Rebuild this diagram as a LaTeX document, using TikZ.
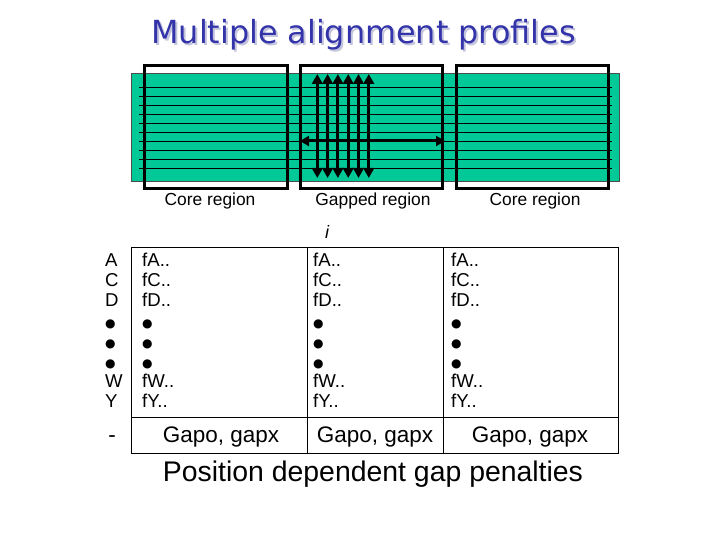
\documentclass[tikz,border=0pt]{standalone}
\usepackage{fontspec}
\setmainfont{Liberation Sans}
\newfontfamily\titlefont{DejaVu Sans}
\usetikzlibrary{arrows.meta}
\definecolor{coregreen}{RGB}{0,200,150}
\definecolor{titleblue}{RGB}{51,51,170}
\definecolor{titleshadow}{RGB}{196,196,220}
\newcommand{\dotmark}{{\titlefont\fontsize{12}{20}\selectfont ●}}
\tikzset{regionbox/.style = {draw, line width=3pt}}
\tikzset{seqline/.style = {line width=0.9pt}}
\tikzset{gaparrow/.style = {line width=3pt,
    {Triangle[width=10.5pt,length=10pt]}-{Triangle[width=10.5pt,length=10pt]}}}
\tikzset{cell/.style = {line width=0.9pt}}
\tikzset{rowtext/.style = {anchor=base west, inner sep=0,
    font=\fontsize{18.6}{20}\selectfont}}
\tikzset{caption/.style = {inner sep=0, font=\fontsize{17.4}{20}\selectfont}}
\tikzset{gaptext/.style = {inner sep=0, font=\fontsize{22.5}{24}\selectfont}}

\begin{document}
\begin{tikzpicture}[x=1pt, y=-1pt]
      \useasboundingbox (0,0) rectangle (720,540);
      % title with shadow
      \node[text=titleshadow, font=\titlefont\fontsize{31.8}{36}\selectfont]
        (titleshd) at (365.5,36.5) {Multiple alignment profiles};
      \node[text=titleblue, font=\titlefont\fontsize{31.8}{36}\selectfont]
        (title) at (363.5,34.5) {Multiple alignment profiles};
      % alignment block
      \draw[fill=coregreen, draw=black!70, line width=0.6pt]
        (131,73) rectangle (619,181);
      \foreach \k in {0,...,9}
        \draw[seqline] (139,87.3+9*\k) -- (612,87.3+9*\k);
      \draw[regionbox] (144,66) rectangle (287,189);
      \draw[regionbox] (300,66) rectangle (442,189);
      \draw[regionbox] (456,66) rectangle (608,189);
      % gap arrows
      \foreach \k in {0,...,5} {
        \coordinate (top\k) at (317.3+10.3*\k,74);
        \coordinate (bot\k) at (317.3+10.3*\k,178);
        \draw[gaparrow] (top\k) -- (bot\k);
      }
      \coordinate (gapl) at (300,141);
      \coordinate (gapr) at (445,141);
      \draw[gaparrow, {Triangle[width=10pt,length=9pt]}-{Triangle[width=10pt,length=9pt]}]
        (gapl) -- (gapr);
      % region labels
      \node[caption] (core1) at (210,201) {Core region};
      \node[caption] (gapped) at (373,201) {Gapped region};
      \node[caption] (core2) at (535,201) {Core region};
      \node[inner sep=0, font=\fontsize{18}{20}\selectfont\itshape]
        (pos) at (327,232) {i};
      % profile table
      \draw[cell] (131,247) rectangle (618,453);
      \draw[cell] (307,247) -- (307,453);
      \draw[cell] (443,247) -- (443,453);
      \draw[cell] (131,417) -- (618,417);
      \foreach \t [count=\k] in {A,C,D,\dotmark,\dotmark,\dotmark,W,Y}
        \node[rowtext] (res\k) at (105,266.7+20.1*\k-20.1) {\t};
      \foreach \c/\x in {a/142,b/313,c/451}
        \foreach \t [count=\k] in {fA..,fC..,fD..,\dotmark,\dotmark,\dotmark,fW..,fY..}
          \node[rowtext] (\c\k) at (\x,266.7+20.1*\k-20.1) {\t};
      \node[gaptext] (gapres) at (112,439) {-};
      \node[gaptext] (gapa) at (221,437) {Gapo, gapx};
      \node[gaptext] (gapb) at (375,437) {Gapo, gapx};
      \node[gaptext] (gapc) at (530,437) {Gapo, gapx};
      \node[inner sep=0, font=\fontsize{28.4}{32}\selectfont]
        (note) at (373,474) {Position dependent gap penalties};
\end{tikzpicture}
\end{document}
